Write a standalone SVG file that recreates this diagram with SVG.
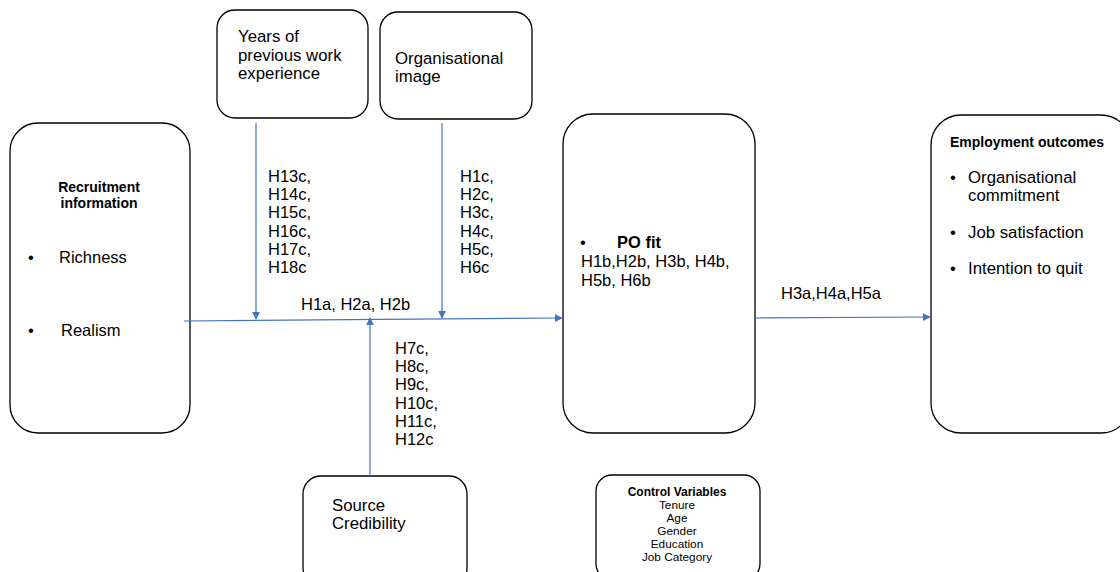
<svg xmlns="http://www.w3.org/2000/svg" width="1120" height="572" viewBox="0 0 1120 572">
<style>
.box{fill:#fff;stroke:#000;stroke-width:1.3}
text{font-family:"Liberation Sans",Arial,sans-serif;fill:#000}
.t16{font-size:16.8px}
.t15{font-size:16.5px}
.b13{font-size:14px;font-weight:bold}
.t11{font-size:11.8px}
.b11{font-size:12px;font-weight:bold}
.c{stroke:#4472C4;stroke-width:1.2;fill:none}
</style>
<defs>
<marker id="ah" viewBox="0 0 10 10" refX="9" refY="5" markerWidth="8" markerHeight="8" markerUnits="userSpaceOnUse" orient="auto">
<path d="M0,0 L10,5 L0,10 z" fill="#4472C4"/>
</marker>
</defs>
<rect width="1120" height="572" fill="#fff"/>
<g id="recruitment">
<rect class="box" x="10" y="123" width="180" height="310" rx="28"/>
<text class="b13" x="99" y="192" text-anchor="middle">Recruitment</text>
<text class="b13" x="99" y="208" text-anchor="middle">information</text>
<text class="t15" x="28" y="263">•</text>
<text class="t15" x="59" y="263">Richness</text>
<text class="t15" x="28" y="336">•</text>
<text class="t15" x="61" y="336">Realism</text>
</g>
<g id="years">
<rect class="box" x="217" y="10" width="151" height="108" rx="18"/>
<text class="t16" x="238" y="42">Years of</text>
<text class="t16" x="238" y="61">previous work</text>
<text class="t16" x="238" y="79">experience</text>
</g>
<g id="orgimage">
<rect class="box" x="380" y="12" width="152" height="107" rx="18"/>
<text class="t16" x="395" y="64">Organisational</text>
<text class="t16" x="395" y="82">image</text>
</g>
<g id="pofit">
<rect class="box" x="563" y="114" width="192" height="319" rx="30"/>
<text class="t15" x="580" y="248">•</text>
<text class="t15" x="617" y="248" font-weight="bold">PO fit</text>
<text class="t15" x="581" y="267">H1b,H2b, H3b, H4b,</text>
<text class="t15" x="581" y="286">H5b, H6b</text>
</g>
<g id="employment">
<rect class="box" x="931" y="115" width="200" height="318" rx="30"/>
<text class="b13" x="950" y="147">Employment outcomes</text>
<text class="t16" x="950" y="183">•</text>
<text class="t16" x="968" y="183">Organisational</text>
<text class="t16" x="968" y="201">commitment</text>
<text class="t16" x="950" y="238">•</text>
<text class="t16" x="968" y="238">Job satisfaction</text>
<text class="t16" x="950" y="274">•</text>
<text class="t16" x="968" y="274">Intention to quit</text>
</g>
<g id="source">
<rect class="box" x="303" y="476" width="164" height="110" rx="18"/>
<text class="t16" x="332" y="511">Source</text>
<text class="t16" x="332" y="529">Credibility</text>
</g>
<g id="control">
<rect class="box" x="596" y="475" width="164" height="105" rx="16"/>
<text class="b11" x="677" y="496" text-anchor="middle">Control Variables</text>
<text class="t11" x="677" y="509" text-anchor="middle">Tenure</text>
<text class="t11" x="677" y="522" text-anchor="middle">Age</text>
<text class="t11" x="677" y="535" text-anchor="middle">Gender</text>
<text class="t11" x="677" y="548" text-anchor="middle">Education</text>
<text class="t11" x="677" y="561" text-anchor="middle">Job Category</text>
</g>
<g id="connectors">
<line class="c" x1="184" y1="321" x2="562" y2="318" marker-end="url(#ah)"/>
<line class="c" x1="256" y1="123" x2="256" y2="319" marker-end="url(#ah)"/>
<line class="c" x1="442" y1="123" x2="442" y2="318" marker-end="url(#ah)"/>
<line class="c" x1="370" y1="476" x2="370" y2="318" marker-end="url(#ah)"/>
<line class="c" x1="755" y1="318" x2="930" y2="317" marker-end="url(#ah)"/>
<text class="t15" x="268" y="182">H13c,</text>
<text class="t15" x="268" y="200">H14c,</text>
<text class="t15" x="268" y="218">H15c,</text>
<text class="t15" x="268" y="237">H16c,</text>
<text class="t15" x="268" y="255">H17c,</text>
<text class="t15" x="268" y="273">H18c</text>
<text class="t15" x="460" y="182">H1c,</text>
<text class="t15" x="460" y="200">H2c,</text>
<text class="t15" x="460" y="218">H3c,</text>
<text class="t15" x="460" y="237">H4c,</text>
<text class="t15" x="460" y="255">H5c,</text>
<text class="t15" x="460" y="273">H6c</text>
<text class="t15" x="301" y="310">H1a, H2a, H2b</text>
<text class="t15" x="395" y="354">H7c,</text>
<text class="t15" x="395" y="372">H8c,</text>
<text class="t15" x="395" y="390">H9c,</text>
<text class="t15" x="395" y="409">H10c,</text>
<text class="t15" x="395" y="427">H11c,</text>
<text class="t15" x="395" y="445">H12c</text>
<text class="t15" x="781" y="299">H3a,H4a,H5a</text>
</g>
</svg>
